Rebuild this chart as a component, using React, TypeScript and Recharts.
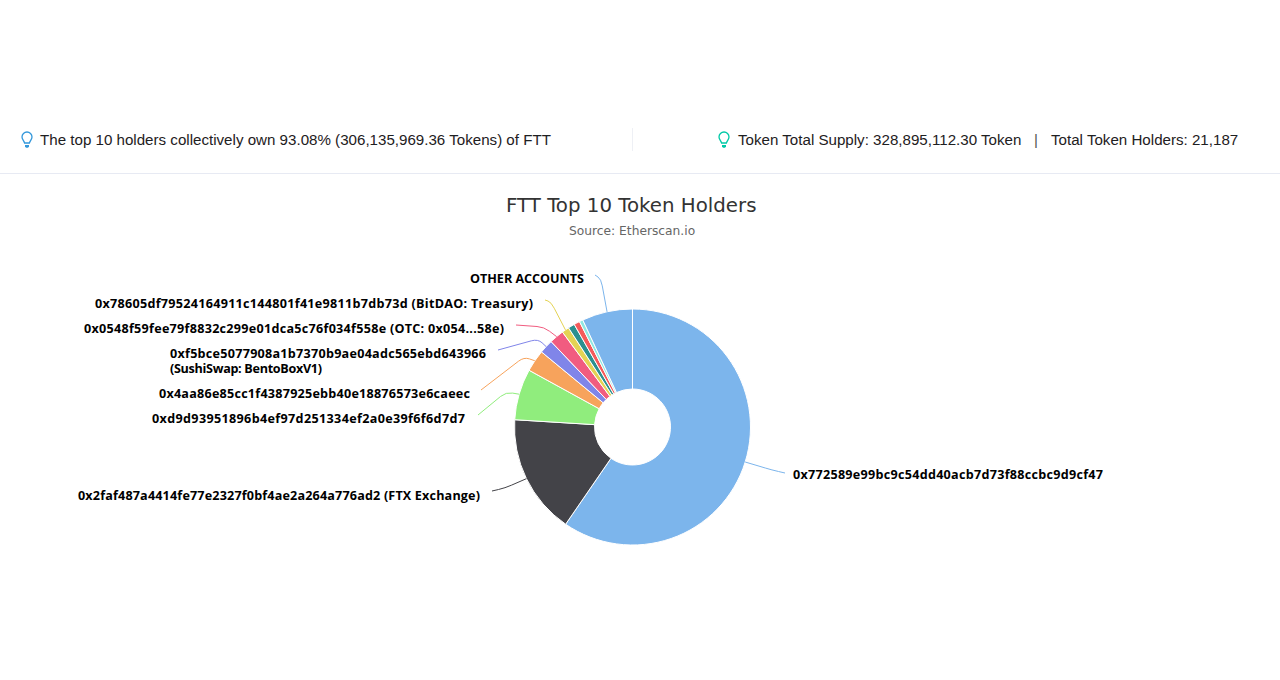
import { Cell, Pie, PieChart } from "recharts";

const HOLDERS = [
  "0x772589e99bc9c54dd40acb7d73f88ccbc9d9cf47",
  "0x2faf487a4414fe77e2327f0bf4ae2a264a776ad2 (FTX Exchange)",
  "0xd9d93951896b4ef97d251334ef2a0e39f6f6d7d7",
  "0x4aa86e85cc1f4387925ebb40e18876573e6caeec",
  "0xf5bce5077908a1b7370b9ae04adc565ebd643966|(SushiSwap: BentoBoxV1)",
  "0x0548f59fee79f8832c299e01dca5c76f034f558e (OTC: 0x054...58e)",
  "0x78605df79524164911c144801f41e9811b7db73d (BitDAO: Treasury)",
  "holder 8",
  "holder 9",
  "holder 10",
  "OTHER ACCOUNTS",
];
const SHARES = [59.6, 16.4, 7.0, 3.0, 1.9, 2.0, 1.0, 0.9, 0.8, 0.5, 6.92];
const COLORS = ["#7cb5ec", "#434348", "#90ed7d", "#f7a35c", "#8085e9", "#f15c80", "#e4d354", "#2b908f", "#f45b5b", "#91e8e1", "#7cb5ec"];

const pieData = HOLDERS.map((name, i) => ({ name, share: SHARES[i] }));

// hand placed label spots, null = slice has no label
const LABEL_SPOTS = [
  { x: 793, y: 478.5, widths: [310], elbow: [772, 470], tail: [785, 473] },
  { x: 78, y: 499.5, widths: [402], elbow: [505, 488], tail: [492, 491] },
  { x: 152, y: 422.5, widths: [313], elbow: [506, 392], tail: [478, 415] },
  { x: 159, y: 397.5, widths: [311], elbow: [524, 357], tail: [481, 390] },
  { x: 170, y: 357.5, widths: [316, 152], elbow: [538, 339], tail: [498, 350] },
  { x: 84, y: 332.5, widths: [420], elbow: [544, 327], tail: [516, 325] },
  { x: 95, y: 307.5, widths: [438], elbow: [551, 302], tail: [545, 300] },
  null,
  null,
  null,
  { x: 470, y: 282.5, widths: [114], elbow: [601, 279], tail: [595, 275] },
];

const RADIAN = Math.PI / 180;

function edgePoint(props: any) {
  const r = props.outerRadius;
  return [props.cx + r * Math.cos(-props.midAngle * RADIAN), props.cy + r * Math.sin(-props.midAngle * RADIAN)];
}

// point on the way from a to b, at most dist px from a
function towards(a: number[], b: number[], dist: number) {
  const len = Math.hypot(b[0] - a[0], b[1] - a[1]) || 1;
  const t = Math.min(dist / len, 0.5);
  return [a[0] + (b[0] - a[0]) * t, a[1] + (b[1] - a[1]) * t];
}

function HolderLabel(props: any) {
  const spot = LABEL_SPOTS[props.index];
  if (!spot) return <g />;
  const lines = HOLDERS[props.index].split("|");
  return (
    <g>
      {lines.map((line, i) => (
        <text
          key={line}
          x={spot.x}
          y={spot.y + i * 15}
          fill="#000"
          fontSize={12.6}
          fontWeight={700}
          fontFamily="'Open Sans', sans-serif"
          textAnchor="start"
          textLength={spot.widths[i]}
          lengthAdjust="spacing"
        >
          {line}
        </text>
      ))}
    </g>
  );
}

function LeaderLine(props: any) {
  const spot = LABEL_SPOTS[props.index];
  if (!spot) return <g />;
  const start = edgePoint(props);
  const a = towards(spot.elbow, start, 7);
  const b = towards(spot.elbow, spot.tail, 7);
  const d = `M${start[0]} ${start[1]}L${a[0]} ${a[1]}Q${spot.elbow[0]} ${spot.elbow[1]} ${b[0]} ${b[1]}L${spot.tail[0]} ${spot.tail[1]}`;
  return <path d={d} fill="none" stroke={COLORS[props.index]} strokeWidth={1} />;
}

function Bulb({ left, color }: { left: number; color: string }) {
  return (
    <svg width={12} height={18} viewBox="0 0 12 18" style={{ position: "absolute", left, top: 131 }}>
      <path d="M6 1a5 5 0 0 0-5 5c0 2.4 2 3.6 2.6 6h4.8C9 9.6 11 8.4 11 6a5 5 0 0 0-5-5z" fill="none" stroke={color} strokeWidth={1.3} />
      <path d="M4 14h4v1.4l-1 1.4H5l-1-1.4z" fill={color} />
    </svg>
  );
}

const infoStyle: React.CSSProperties = {
  position: "absolute",
  top: 130,
  fontFamily: "'Liberation Sans', sans-serif",
  fontSize: 15.13,
  lineHeight: "19px",
  color: "#1e2022",
  whiteSpace: "nowrap",
};

export default function App() {
  return (
    <div style={{ position: "absolute", left: 0, top: 0, width: 1280, height: 680, background: "#fff", overflow: "hidden" }}>
      <Bulb left={21} color="#3498db" />
      <div style={{ ...infoStyle, left: 40 }}>The top 10 holders collectively own 93.08% (306,135,969.36 Tokens) of FTT</div>
      <div style={{ position: "absolute", left: 632, top: 128, width: 1, height: 23, background: "#eef0f5" }} />
      <Bulb left={718} color="#00c9a7" />
      <div style={{ ...infoStyle, left: 738 }}>Token Total Supply: 328,895,112.30 Token</div>
      <div style={{ ...infoStyle, left: 1034, color: "#555" }}>|</div>
      <div style={{ ...infoStyle, left: 1051 }}>Total Token Holders: 21,187</div>
      <div style={{ position: "absolute", left: 0, top: 173, width: 1280, height: 1, background: "#e7eaf3" }} />
      <div style={{ position: "absolute", left: 506, top: 194, whiteSpace: "nowrap", fontFamily: "'DejaVu Sans', sans-serif", fontSize: 19.8, lineHeight: "24px", color: "#333" }}>
        FTT Top 10 Token Holders
      </div>
      <div style={{ position: "absolute", left: 569, top: 223, whiteSpace: "nowrap", fontFamily: "'DejaVu Sans', sans-serif", fontSize: 12.25, lineHeight: "16px", color: "#666" }}>
        Source: Etherscan.io
      </div>
      <div style={{ position: "absolute", left: 0, top: 0 }}>
        <PieChart width={1280} height={680} margin={{ top: 0, right: 0, bottom: 0, left: 0 }}>
          <Pie
            data={pieData}
            dataKey="share"
            nameKey="name"
            cx={632.5}
            cy={427}
            innerRadius={38}
            outerRadius={118}
            startAngle={90}
            endAngle={-270}
            stroke="#fff"
            strokeWidth={1}
            label={HolderLabel}
            labelLine={LeaderLine}
            isAnimationActive={false}
          >
            {pieData.map((d, i) => (
              <Cell key={i} fill={COLORS[i]} />
            ))}
          </Pie>
        </PieChart>
      </div>
    </div>
  );
}
